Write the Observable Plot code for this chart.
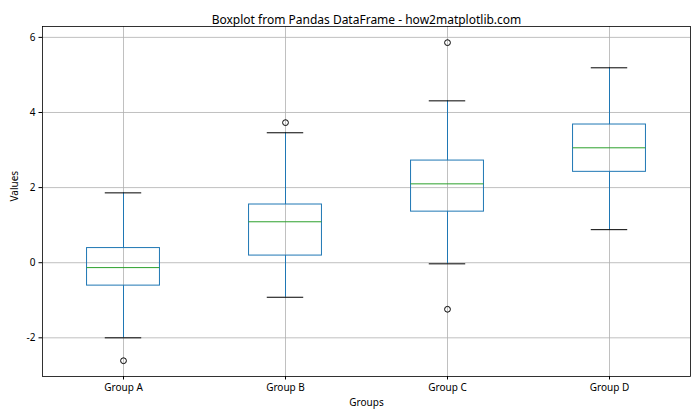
<!DOCTYPE html>
<html>
<head>
<meta charset="utf-8">
<script src="https://cdn.jsdelivr.net/npm/d3@7"></script>
<script src="https://cdn.jsdelivr.net/npm/@observablehq/plot@0.6"></script>
<style>
  html, body { margin: 0; padding: 0; background: white; }
</style>
</head>
<body>
<div id="chart"></div>
<script>
const title = "Boxplot from Pandas DataFrame - how2matplotlib.com";
const xLabel = "Groups";
const yLabel = "Values";
const groups = ["Group A", "Group B", "Group C", "Group D"];
const q1 = [-0.61, 0.19, 1.36, 2.42];
const median = [-0.13, 1.09, 2.10, 3.06];
const q3 = [0.39, 1.55, 2.72, 3.68];
const whiskerLow = [-2.00, -0.92, -0.03, 0.88];
const whiskerHigh = [1.86, 3.46, 4.31, 5.19];
const outlierGroup = ["Group A", "Group B", "Group C", "Group C"];
const outlierValue = [-2.61, 3.73, 5.86, -1.24];
const yTicks = [-2, 0, 2, 4, 6];

const stats = groups.map((g, i) => ({
  group: g, q1: q1[i], median: median[i], q3: q3[i],
  low: whiskerLow[i], high: whiskerHigh[i]
}));
const outliers = outlierGroup.map((g, i) => ({group: g, value: outlierValue[i]}));

const W = 700, H = 420, mL = 42, mR = 10, mT = 26, mB = 44;
const band = (W - mL - mR) / groups.length;
const boxInset = band * (1 - 0.45) / 2;
const capInset = band * (1 - 0.225) / 2;
const blue = "#1f77b4", green = "#2ca02c", grid = "#b0b0b0";
const font = "'Noto Sans', sans-serif";

const chart = Plot.plot({
  width: W, height: H,
  marginLeft: mL, marginRight: mR, marginTop: mT, marginBottom: mB,
  style: {fontFamily: font, fontSize: "10px", background: "white", color: "black"},
  x: {type: "band", domain: groups, padding: 0},
  y: {domain: [-3.03, 6.29]},
  marks: [
    Plot.ruleY(yTicks, {y: d => d, stroke: grid, strokeWidth: 0.8}),
    Plot.ruleX(groups, {x: d => d, stroke: grid, strokeWidth: 0.8}),
    Plot.ruleX(stats, {x: "group", y1: "low", y2: "q1", stroke: blue, strokeWidth: 1}),
    Plot.ruleX(stats, {x: "group", y1: "q3", y2: "high", stroke: blue, strokeWidth: 1}),
    Plot.barY(stats, {x: "group", y1: "q1", y2: "q3", fill: "none", stroke: blue, strokeWidth: 1,
      insetLeft: boxInset, insetRight: boxInset}),
    Plot.tickY(stats, {x: "group", y: "median", stroke: green, strokeWidth: 1,
      insetLeft: boxInset, insetRight: boxInset}),
    Plot.tickY(stats, {x: "group", y: "low", stroke: "black", strokeWidth: 1,
      insetLeft: capInset, insetRight: capInset}),
    Plot.tickY(stats, {x: "group", y: "high", stroke: "black", strokeWidth: 1,
      insetLeft: capInset, insetRight: capInset}),
    Plot.dot(outliers, {x: "group", y: "value", r: 2.9, stroke: "black", fill: "none", strokeWidth: 1}),
    Plot.frame({stroke: "black", strokeWidth: 0.8}),
    Plot.axisY({ticks: yTicks, tickSize: 3.5, tickPadding: 3.5, tickFormat: d => String(d),
      label: null, fontSize: 10}),
    Plot.axisX({tickSize: 3.5, tickPadding: 3.5, label: null, fontSize: 10}),
    Plot.text([title], {frameAnchor: "top", dy: -11, fontSize: 12, fill: "black"}),
    Plot.text([xLabel], {frameAnchor: "bottom", dy: 29, fontSize: 10, fill: "black"}),
    Plot.text([yLabel], {frameAnchor: "left", dx: -28, rotate: -90, fontSize: 10, fill: "black"})
  ]
});
document.getElementById("chart").appendChild(chart);
</script>
</body>
</html>
